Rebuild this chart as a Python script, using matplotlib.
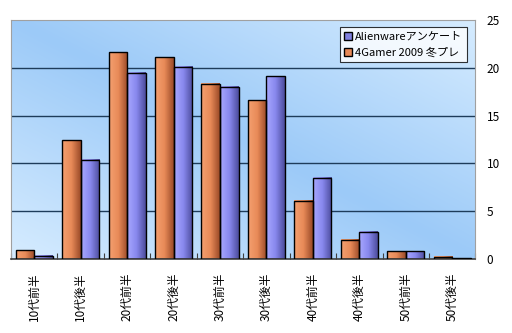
import numpy as np
import matplotlib.pyplot as plt
from matplotlib.colors import LinearSegmentedColormap
from matplotlib.patches import Patch

plt.rcParams['font.family'] = ['Noto Sans CJK JP', 'DejaVu Sans']

categories = ["10代前半", "10代後半", "20代前半", "20代後半", "30代前半",
              "30代後半", "40代前半", "40代後半", "50代前半", "50代後半"]
gamer_2009 = [0.9, 12.4, 21.6, 21.1, 18.3, 16.6, 6.1, 2.0, 0.8, 0.25]
alienware = [0.35, 10.4, 19.5, 20.1, 18.0, 19.1, 8.5, 2.85, 0.8, 0.1]
series_names = ["Alienwareアンケート", "4Gamer 2009 冬プレ"]

fig = plt.figure(figsize=(5.12, 3.33), dpi=100)
ax = fig.add_axes([0.0215, 0.222, 0.907, 0.718])

n = len(categories)
ax.set_xlim(0, n)
ax.set_ylim(0, 25)

# plot area background: soft blue gradient
u, v = np.meshgrid(np.linspace(0, 1, 200), np.linspace(1, 0, 200))
shade = np.abs(u + v - 1)
bg = LinearSegmentedColormap.from_list("bg", ["#9ccaf8", "#d6ecff"])
ax.imshow(shade, cmap=bg, extent=[0, n, 0, 25], aspect="auto", zorder=0,
          vmin=0, vmax=1)

orange_cm = LinearSegmentedColormap.from_list("o", ["#f4a070", "#e88a58", "#9a4a28"])
blue_cm = LinearSegmentedColormap.from_list("b", ["#a8a8ff", "#8888ee", "#4c4c9c"])
ramp = np.linspace(0, 1, 64).reshape(1, -1)

w = 0.4
x = np.arange(n) + 0.5
for vals, off, cm in [(gamer_2009, -w / 2, orange_cm), (alienware, w / 2, blue_cm)]:
    bars = ax.bar(x + off, vals, width=w, facecolor="none", edgecolor="black",
                  linewidth=1.0, zorder=3)
    for b in bars:
        x0, y0 = b.get_x(), b.get_y()
        ax.imshow(ramp, cmap=cm, extent=[x0, x0 + b.get_width(), y0, y0 + b.get_height()],
                  aspect="auto", zorder=2)

for y in range(5, 25, 5):
    ax.axhline(y, color="#1e3c5a", linewidth=1.0, zorder=1)

ax.yaxis.tick_right()
ax.set_yticks(range(0, 26, 5))
ax.tick_params(axis="y", length=0, labelsize=8.5, pad=8)
ax.set_xticks(np.arange(n + 1), minor=False)
ax.set_xticklabels([])
ax.set_xticks(x, minor=True)
ax.set_xticklabels(categories, minor=True, rotation=90, fontsize=8.5)
ax.tick_params(axis="x", which="major", direction="in", length=4, color="#404040")
ax.tick_params(axis="x", which="minor", length=0, pad=10)

for side in ["top", "left", "right"]:
    ax.spines[side].set_color("#a0a0a0")
ax.spines["bottom"].set_color("#404040")
ax.spines["bottom"].set_linewidth(1.2)

handles = [Patch(facecolor="#8080e0", edgecolor="black"),
           Patch(facecolor="#e88a58", edgecolor="black")]
leg = ax.legend(handles, series_names, loc="upper right", bbox_to_anchor=(0.982, 0.97),
                fontsize=8, frameon=True, fancybox=False, handlelength=0.7,
                handleheight=0.7, handletextpad=0.3, borderpad=0.4, labelspacing=0.5,
                borderaxespad=0)
leg.get_frame().set_edgecolor("black")
leg.get_frame().set_linewidth(0.8)
leg.set_zorder(5)

fig.savefig("out.png", dpi=100)
